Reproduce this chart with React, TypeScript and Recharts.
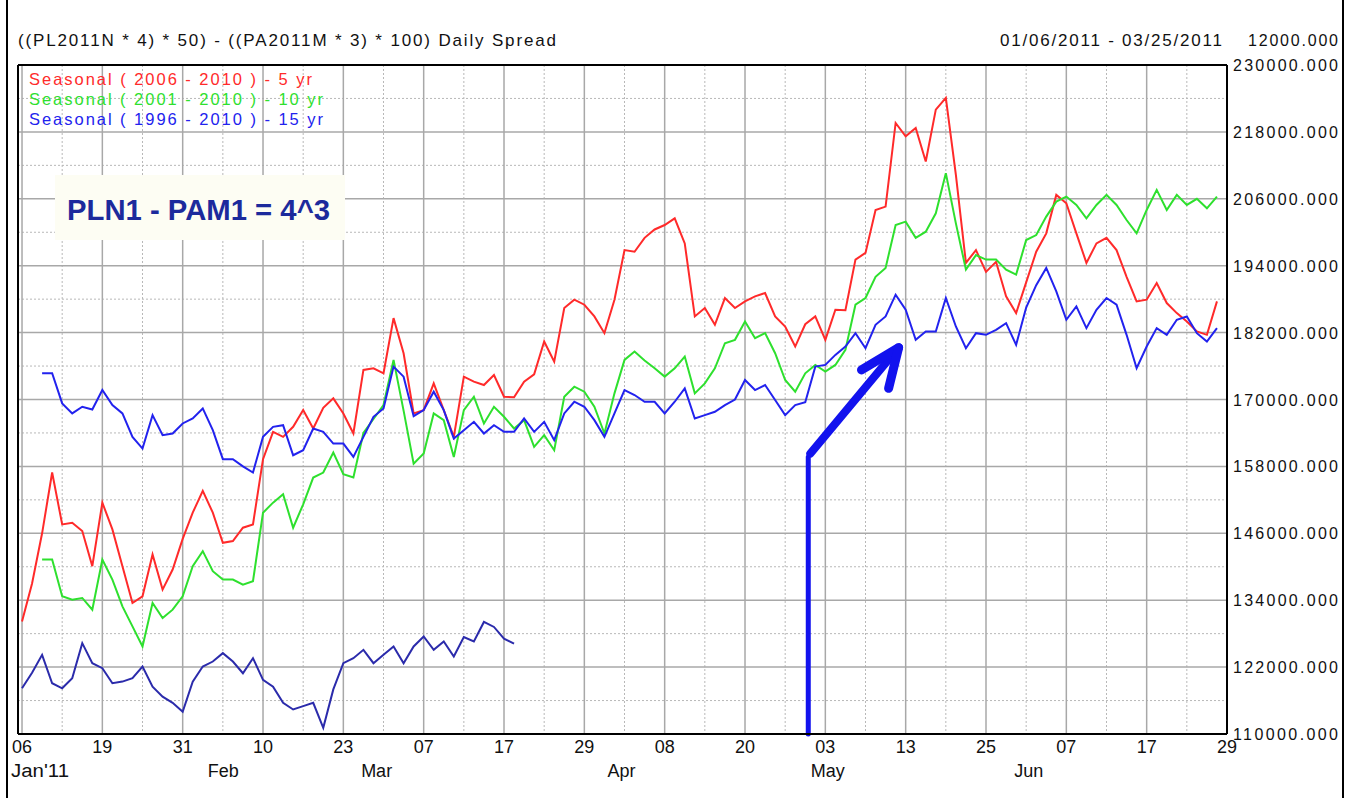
import React from 'react';
import { LineChart, Line, XAxis, YAxis, CartesianGrid, ReferenceLine } from 'recharts';

// trading-day index 0 = 06 Jan '11, one tick label every 8 sessions
const dayTicks = [0, 8, 16, 24, 32, 40, 48, 56, 64, 72, 80, 88, 96, 104, 112, 120];
const dayLabels = ['06', '19', '31', '10', '23', '07', '17', '29', '08', '20', '03', '13', '25', '07', '17', '29'];
const monthTicks = [0, 20.2, 35.3, 59.4, 79.7, 99.5];
const monthLabels = ["Jan'11", 'Feb', 'Mar', 'Apr', 'May', 'Jun'];
const yTicks = [110000, 122000, 134000, 146000, 158000, 170000, 182000, 194000, 206000, 218000, 230000];

// Seasonal (2006 - 2010) - 5 yr, starts at index 0
const seasonal5 = [
  130200, 137000, 146000, 156900, 147600, 147900, 146400, 140100, 151500, 146700,
  140100, 133500, 134700, 142200, 135900, 139500, 145000, 149700, 153600, 149700,
  144300, 144600, 147000, 147600, 159300, 164200, 163300, 165100, 168100, 164800,
  168500, 170200, 167500, 163900, 175300, 175600, 174700, 184600, 178300, 167500,
  168100, 172900, 168100, 163300, 174100, 173200, 172600, 174400, 170500, 170400,
  173200, 174500, 180400, 176800, 186400, 187900, 187000, 184900, 181900, 187900,
  196800, 196500, 199000, 200500, 201300, 202500, 198000, 184900, 186400, 183400,
  188200, 186400, 187600, 188500, 189100, 184900, 183100, 179500, 183500, 184900,
  180700, 186100, 186000, 195100, 196300, 204000, 204600, 219600, 217200, 218700,
  212700, 222000, 224100, 210300, 194500, 196800, 192900, 194700, 188500, 185500,
  191000, 196500, 199800, 206700, 205200, 199800, 194500, 198000, 199000, 196800,
  192000, 187600, 187900, 190900, 187300, 185500, 184000, 182200, 181600, 187600,
];

// Seasonal (2001 - 2010) - 10 yr, starts at index 2
const seasonal10Start = 2;
const seasonal10 = [
  141300, 141300, 134700, 134100, 134400, 132300, 141300, 137700,
  132900, 129300, 125700, 133500, 130800, 132300, 134700, 140100, 142800, 139200,
  137700, 137700, 136800, 137400, 149700, 151500, 153000, 147000, 151200, 156000,
  156900, 160500, 156600, 156000, 164000, 166500, 169000, 177100, 168000, 158500,
  160300, 167500, 166300, 159700, 168100, 170500, 165700, 168700, 166900, 164800,
  166300, 161500, 163600, 160900, 170500, 172300, 171400, 168700, 163900, 171100,
  177100, 178600, 177000, 175600, 174100, 175600, 177700, 171100, 172900, 175600,
  180100, 180700, 184000, 181000, 181900, 178300, 173500, 171400, 174700, 176200,
  175000, 176200, 178900, 187000, 188200, 192000, 193600, 201300, 201900, 199000,
  200100, 203400, 210600, 201600, 193300, 195900, 195100, 195100, 193300, 192400,
  198600, 199500, 202800, 205500, 206400, 204900, 202500, 204900, 206700, 204900,
  202200, 199800, 204000, 207600, 204000, 206700, 204900, 206000, 204300, 206400,
];

// Seasonal (1996 - 2010) - 15 yr, starts at index 2
const seasonal15Start = 2;
const seasonal15 = [
  174700, 174700, 169300, 167500, 168700, 168200, 171700, 169000,
  167500, 163300, 161200, 167200, 163600, 163900, 165700, 166600, 168400, 164500,
  159300, 159300, 158000, 156900, 163300, 165100, 165400, 160000, 160900, 164800,
  164200, 162100, 162100, 159700, 163300, 166900, 168400, 175900, 174100, 167000,
  168100, 171400, 168100, 163000, 164500, 166000, 163900, 165400, 164200, 164200,
  166600, 164200, 166000, 162700, 167500, 169600, 168700, 166300, 163300, 167500,
  171700, 170800, 169600, 169600, 167500, 169600, 172000, 166600, 167200, 167800,
  169000, 170000, 173500, 171700, 172600, 169900, 167200, 169000, 169500, 175900,
  176200, 178000, 179500, 181900, 179200, 183400, 184900, 188800, 186100, 180700,
  182200, 182200, 188200, 183100, 179200, 181900, 181600, 182500, 183700, 179800,
  186500, 190500, 193600, 189400, 184300, 186700, 182800, 186100, 188200, 187000,
  181600, 175600, 179500, 182800, 181600, 184300, 184900, 181900, 180400, 182800,
];

// actual 2011 spread (01/06/2011 onwards), starts at index 0
const actual2011 = [
  118200, 121000, 124200, 119100, 118200, 120000, 126300, 122700, 121800, 119100,
  119400, 120000, 122100, 118500, 116700, 115600, 114000, 119400, 122100, 123000,
  124500, 123000, 120900, 123600, 119700, 118500, 115600, 114400, 115000, 115600,
  111100, 118000, 122700, 123600, 125100, 122700, 124200, 125700, 122700, 125700,
  127500, 125100, 126600, 123900, 127400, 126600, 130100, 129200, 127100, 126200,
];

// hand-drawn arrow, in (session index, spread) coordinates
const arrowSegments = [
  { from: { x: 78.3, y: 110000 }, to: { x: 78.3, y: 159700 }, width: 5 },
  { from: { x: 78.5, y: 160300 }, to: { x: 87.1, y: 178900 }, width: 8 },
  { from: { x: 83.6, y: 175300 }, to: { x: 87.3, y: 179300 }, width: 9 },
  { from: { x: 86.3, y: 172000 }, to: { x: 87.3, y: 179300 }, width: 9 },
];

const data = seasonal5.map((v, i) => ({
  i,
  s5: v,
  s10: i >= seasonal10Start ? seasonal10[i - seasonal10Start] : null,
  s15: i >= seasonal15Start ? seasonal15[i - seasonal15Start] : null,
  act: i < actual2011.length ? actual2011[i] : null,
}));

const xDomain: [number, number] = [-0.4, 120];
const yMinor = yTicks.slice(1).map((v, k) => (v + yTicks[k]) / 2);
const xMinor = dayTicks.slice(1).map((v, k) => (v + dayTicks[k]) / 2);

const FONT = '"Liberation Sans", Arial, sans-serif';
const NARROW = '"Liberation Sans Narrow", "Liberation Sans", Arial, sans-serif';

function DayTick(props: any) {
  const { x, y, payload } = props;
  const label = dayLabels[dayTicks.indexOf(payload.value)];
  return (
    <text x={x} y={y + 19} textAnchor="middle" fontFamily={NARROW} fontSize={18} fill="#111"
      textLength={20} lengthAdjust="spacingAndGlyphs">
      {label}
    </text>
  );
}

function MonthTick(props: any) {
  const { x, y, payload } = props;
  const k = monthTicks.indexOf(payload.value);
  const label = monthLabels[k];
  if (k === 0) {
    return (
      <text x={x - 7} y={y + 19} textAnchor="start" fontFamily={NARROW} fontSize={18} fill="#111"
        textLength={58} lengthAdjust="spacingAndGlyphs">
        {label}
      </text>
    );
  }
  return (
    <text x={x} y={y + 19} textAnchor="middle" fontFamily={NARROW} fontSize={18} fill="#111">
      {label}
    </text>
  );
}

function PriceTick(props: any) {
  const { x, y, payload } = props;
  return (
    <text x={x + 6} y={y + 6} textAnchor="start" fontFamily={FONT} fontSize={16} fill="#111"
      textLength={105} lengthAdjust="spacing">
      {Number(payload.value).toFixed(3)}
    </text>
  );
}

export default function App() {
  return (
    <div style={{ position: 'absolute', left: 0, top: 0, width: 1353, height: 798, background: '#fff' }}>
      <div style={{ position: 'absolute', left: 0, top: 0, width: 1343, height: 798, overflow: 'hidden' }}>
        <LineChart width={1343} height={798} data={data} margin={{ top: 65, right: 6, left: 18, bottom: 14 }}>
          <CartesianGrid horizontalValues={yMinor} verticalValues={xMinor} stroke="#b8b8b8" strokeDasharray="2 2" />
          <CartesianGrid horizontalValues={yTicks} verticalValues={dayTicks} stroke="#a8a8a8" strokeWidth={1.5} />
          <XAxis dataKey="i" type="number" domain={xDomain} allowDataOverflow ticks={dayTicks} interval={0}
            tick={<DayTick />} tickLine={false} axisLine={false} tickSize={0} tickMargin={0} height={24} />
          <XAxis xAxisId="m" type="number" domain={xDomain} allowDataOverflow ticks={monthTicks} interval={0}
            tick={<MonthTick />} tickLine={false} axisLine={false} tickSize={0} tickMargin={0} height={26} />
          <YAxis orientation="right" type="number" domain={[110000, 230000]} allowDataOverflow ticks={yTicks}
            interval={0} tick={<PriceTick />} tickLine={false} axisLine={false} tickSize={0} tickMargin={0} width={110} />
          <Line dataKey="s5" stroke="#ff2a2a" strokeWidth={2} dot={false} isAnimationActive={false} type="linear" />
          <Line dataKey="s10" stroke="#2ee02e" strokeWidth={2} dot={false} isAnimationActive={false} type="linear" />
          <Line dataKey="s15" stroke="#2222ee" strokeWidth={2} dot={false} isAnimationActive={false} type="linear" />
          <Line dataKey="act" stroke="#2b2bab" strokeWidth={2} dot={false} isAnimationActive={false} type="linear" />
          {arrowSegments.map((s, k) => (
            <ReferenceLine key={k} segment={[s.from, s.to]} stroke="#1212ee" strokeWidth={s.width}
              strokeLinecap="round" ifOverflow="visible" />
          ))}
          <ReferenceLine x={xDomain[0]} stroke="#000" strokeWidth={2} ifOverflow="visible" />
          <ReferenceLine x={xDomain[1]} stroke="#000" strokeWidth={2} ifOverflow="visible" />
          <ReferenceLine y={110000} stroke="#000" strokeWidth={2} ifOverflow="visible" />
          <ReferenceLine y={230000} stroke="#000" strokeWidth={2} ifOverflow="visible" />
        </LineChart>
        <svg width={1343} height={798} style={{ position: 'absolute', left: 0, top: 0, pointerEvents: 'none' }}>
          <text x={18} y={46} fontFamily={FONT} fontSize={17} fill="#111" textLength={538} lengthAdjust="spacing">
            ((PL2011N * 4) * 50) - ((PA2011M * 3) * 100) Daily  Spread
          </text>
          <text x={1000} y={46} fontFamily={FONT} fontSize={17} fill="#111" textLength={222} lengthAdjust="spacing">
            01/06/2011 - 03/25/2011
          </text>
          <text x={1248} y={46} fontFamily={FONT} fontSize={16} fill="#111" textLength={90} lengthAdjust="spacing">
            12000.000
          </text>
          <text x={29} y={85} fontFamily={FONT} fontSize={16.5} fill="#ff2a2a" textLength={283} lengthAdjust="spacing">
            Seasonal ( 2006 - 2010 ) - 5 yr
          </text>
          <text x={29} y={105} fontFamily={FONT} fontSize={16.5} fill="#2ee02e" textLength={294} lengthAdjust="spacing">
            Seasonal ( 2001 - 2010 ) - 10 yr
          </text>
          <text x={29} y={125} fontFamily={FONT} fontSize={16.5} fill="#2222ee" textLength={294} lengthAdjust="spacing">
            Seasonal ( 1996 - 2010 ) - 15 yr
          </text>
          <rect x={55} y={175} width={290} height={65} fill="#fdfdf3" />
          <text x={67} y={220} fontFamily={FONT} fontSize={30} fontWeight="bold" fill="#1c2a9c" textLength={263}
            lengthAdjust="spacingAndGlyphs">
            PLN1 - PAM1 = 4^3
          </text>
        </svg>
      </div>
      <div style={{ position: 'absolute', left: 6, top: 0, width: 2, height: 798, background: '#000' }} />
      <div style={{ position: 'absolute', left: 1342, top: 0, width: 2, height: 798, background: '#000' }} />
    </div>
  );
}
